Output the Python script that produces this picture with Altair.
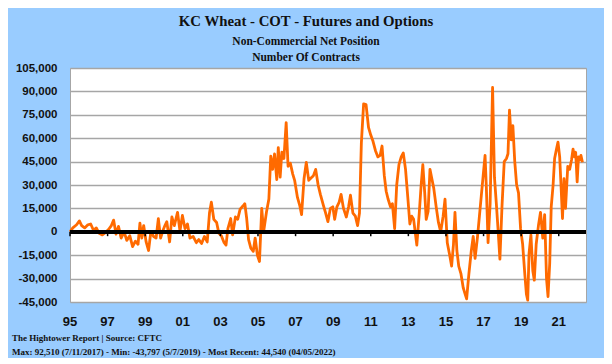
import altair as alt
import pandas as pd

# ---- data (decimal year, net non-commercial position) ----
years = [
    1995.00, 1995.15, 1995.35, 1995.50, 1995.62, 1995.78, 1995.95, 1996.10, 1996.25, 1996.40,
    1996.55, 1996.72, 1996.88, 1997.05, 1997.20, 1997.32, 1997.45, 1997.58, 1997.72, 1997.88,
    1998.02, 1998.18, 1998.33, 1998.48, 1998.62, 1998.72, 1998.82, 1998.92, 1999.05, 1999.18,
    1999.30, 1999.45, 1999.58, 1999.70, 1999.82, 1999.95, 2000.05, 2000.15, 2000.30, 2000.42,
    2000.55, 2000.72, 2000.85, 2000.98, 2001.12, 2001.25, 2001.38, 2001.55, 2001.72, 2001.85,
    2002.00, 2002.15, 2002.30, 2002.42, 2002.52, 2002.65, 2002.80, 2002.92, 2003.05, 2003.20,
    2003.30, 2003.40, 2003.55, 2003.65, 2003.80, 2003.92, 2004.05, 2004.20, 2004.30, 2004.40,
    2004.50, 2004.62, 2004.75, 2004.85, 2004.97, 2005.08, 2005.20, 2005.30, 2005.45, 2005.58,
    2005.68, 2005.78, 2005.88, 2006.00, 2006.08, 2006.18, 2006.27, 2006.38, 2006.50, 2006.60,
    2006.72, 2006.85, 2006.95, 2007.10, 2007.22, 2007.32, 2007.45, 2007.57, 2007.70, 2007.82,
    2007.95, 2008.07, 2008.20, 2008.32, 2008.48, 2008.60, 2008.72, 2008.85, 2008.98, 2009.08,
    2009.20, 2009.32, 2009.42, 2009.55, 2009.70, 2009.82, 2009.92, 2010.05, 2010.18, 2010.30,
    2010.40, 2010.50, 2010.62, 2010.75, 2010.88, 2011.00, 2011.12, 2011.25, 2011.38, 2011.50,
    2011.60, 2011.72, 2011.82, 2011.92, 2012.05, 2012.15, 2012.27, 2012.38, 2012.50, 2012.62,
    2012.73, 2012.85, 2012.97, 2013.08, 2013.18, 2013.28, 2013.45, 2013.58, 2013.68, 2013.77,
    2013.87, 2013.95, 2014.05, 2014.15, 2014.25, 2014.35, 2014.48, 2014.60, 2014.72, 2014.85,
    2014.95, 2015.07, 2015.20, 2015.30, 2015.40, 2015.48, 2015.58, 2015.68, 2015.80, 2015.92,
    2016.02, 2016.10, 2016.22, 2016.35, 2016.45, 2016.55, 2016.68, 2016.78, 2016.88, 2016.98,
    2017.08, 2017.15, 2017.24, 2017.35, 2017.48, 2017.58, 2017.68, 2017.78, 2017.87, 2017.98,
    2018.10, 2018.22, 2018.30, 2018.38, 2018.47, 2018.56, 2018.66, 2018.76, 2018.86, 2018.97,
    2019.08, 2019.20, 2019.28, 2019.35, 2019.42, 2019.52, 2019.62, 2019.70, 2019.80, 2019.92,
    2020.03, 2020.15, 2020.25, 2020.35, 2020.43, 2020.52, 2020.60, 2020.70, 2020.78, 2020.88,
    2020.96, 2021.05, 2021.12, 2021.20, 2021.28, 2021.36, 2021.48, 2021.58, 2021.68, 2021.76,
    2021.84, 2021.90, 2021.98, 2022.05, 2022.12, 2022.18, 2022.26,
]
positions = [
    0, 2500, 4500, 7000, 4000, 2500, 4500, 5000, 1000, 2500,
    -1000, -2000, -500, 1500, 4000, 7500, -1500, 3500, -4000, 0,
    -5500, -2500, -9500, -6000, -8000, 5500, -4000, 4000, -6500, -12000,
    0, -3000, -4000, 8500, -4000, 1000, 4000, 6500, -6500, 9500,
    4000, 12500, 500, 10500, 2000, 5000, -4000, -3000, -7000, -5000,
    -7500, -3000, -6500, 12000, 19000, 8000, 6000, -1000, -2500, -7000,
    -8500, 2000, 8500, -2000, 9500, 8000, 14500, 16500, 18000, 8500,
    -5000, -10500, -12500, -4000, -15000, -19000, 15000, 0, 12500, 21000,
    48500, 40000, 50000, 33500, 54000, 35000, 51000, 47000, 70000, 42000,
    44000, 37000, 33000, 22000, 17000, 11000, 34000, 44500, 33000, 34500,
    36000, 40000, 30000, 24000, 17000, 12000, 6500, 15000, 16000, 8000,
    16000, 19000, 24000, 15000, 9500, 16000, 23500, 12000, 10000, 4000,
    12000, 57000, 82000, 81500, 67000, 62000, 58000, 52000, 48000, 49000,
    55000, 36000, 26000, 21000, 16000, 18000, 2000, 30000, 43000, 48000,
    50500, 40000, 22000, 5000, 10000, 8000, -8500, 12000, 30000, 43000,
    25000, 8000, 13000, 40000, 34000, 28000, 16000, 6000, 0, 10000,
    21000, -7000, -15000, -22000, -8000, 12500, -12000, -22000, -27000, -36000,
    -40000, -43000, -27000, -12000, -3000, -17000, -3000, 10000, 23000, 36000,
    49000, 28000, -7000, 18000, 92510, 35000, 18000, 0, -17500, 16000,
    45000, 47000, 50000, 78000, 59000, 68000, 45000, 30000, 25000, 2000,
    -8000, -28000, -40000, -43797, -14000, -2000, -25000, -31000, -8000, 4000,
    12500, -4000, 11000, -30000, -41500, -20000, 16000, 30000, 47000, 53000,
    57500, 48000, 30000, 8500, 34000, 15000, 42000, 40000, 46000, 53000,
    48000, 51000, 32000, 48000, 46000, 49000, 44540,
]

x_tick_years = [1995, 1997, 1999, 2001, 2003, 2005, 2007, 2009, 2011, 2013, 2015, 2017, 2019, 2021]
x_tick_labels = ["95", "97", "99", "01", "03", "05", "07", "09", "11", "13", "15", "17", "19", "21"]
y_tick_values = [-45000, -30000, -15000, 0, 15000, 30000, 45000, 60000, 75000, 90000, 105000]

title_text = "KC Wheat - COT - Futures and Options"
subtitle_1 = "Non-Commercial Net Position"
subtitle_2 = "Number Of Contracts"
footnote_1 = "The Hightower Report | Source: CFTC"
footnote_2 = "Max: 92,510 (7/11/2017)  - Min: -43,797 (5/7/2019) - Most Recent: 44,540 (04/05/2022)"

df = pd.DataFrame({"year": years, "value": positions})
ticks_df = pd.DataFrame({"year": x_tick_years, "label": x_tick_labels})

SERIF = "Liberation Serif"
SANS = "Liberation Sans"

W, H = 516, 234

x_scale = alt.Scale(domain=[1995, 2022.45], nice=False, zero=False)

y_enc = alt.Y(
    "value:Q",
    scale=alt.Scale(domain=[-45000, 105000], nice=False, zero=False),
    title=None,
    axis=alt.Axis(values=y_tick_values, tickCount=40,
                  labelExpr="replace(format(datum.value, ','), '\u2212', '-')",
                  grid=True, gridColor="#A6A6A6", gridWidth=1.3,
                  domain=False, ticks=False, labelPadding=13,
                  labelFont=SANS, labelFontSize=11.5, labelFontWeight="bold",
                  labelColor="#111111", labelOverlap=False, labelBound=False,
                  labelFlush=False),
)

line = alt.Chart(df).mark_line(color="#FF6A00", strokeWidth=2.8, strokeJoin="round").encode(
    x=alt.X("year:Q", scale=x_scale, axis=None),
    y=y_enc,
)

zero_rule = alt.Chart(df).mark_rule(color="black", strokeWidth=3).encode(
    y=alt.datum(0)
)

zero_ticks = alt.Chart(ticks_df).mark_rule(color="black", strokeWidth=1.5).encode(
    x=alt.X("year:Q", scale=x_scale, axis=None),
    y=alt.datum(0),
    y2=alt.datum(-2800),
)

# each year label drawn as its own text layer
label_layers = []
for yr, lab in zip(x_tick_years, x_tick_labels):
    label_layers.append(
        alt.Chart(pd.DataFrame({"year": [yr], "label": [lab]})).mark_text(
            font=SANS, fontWeight="bold", fontSize=13, color="#111111",
            align="center", baseline="middle"
        ).encode(
            x=alt.X("year:Q", scale=x_scale, axis=None),
            y=alt.value(H + 20),
            text="label:N",
        )
    )


def text_layer(txt, xpos, ypos, size, align):
    return alt.Chart(pd.DataFrame({"t": [txt]})).mark_text(
        font=SERIF, fontWeight="bold", fontSize=size, color="#111111",
        align=align, baseline="alphabetic"
    ).encode(text="t:N", x=alt.value(xpos), y=alt.value(ypos))


layers = [
    line, zero_rule, zero_ticks, *label_layers,
    text_layer(title_text, 236, -42, 14.8, "center"),
    text_layer(subtitle_1, 236, -23, 11.5, "center"),
    text_layer(subtitle_2, 236, -7, 11.5, "center"),
    text_layer(footnote_1, -58, 273, 9, "left"),
    text_layer(footnote_2, -58, 287, 9, "left"),
]

chart = alt.layer(*layers).properties(
    width=W, height=H,
    autosize=alt.AutoSizeParams(type="none"),
    padding={"left": 62, "top": 60, "right": 18, "bottom": 56},
    background="#99CCFF",
).configure_view(fill="white", stroke="#A6A6A6", strokeWidth=1)

chart.save("out.html", embed_options={"renderer": "svg", "actions": False})
